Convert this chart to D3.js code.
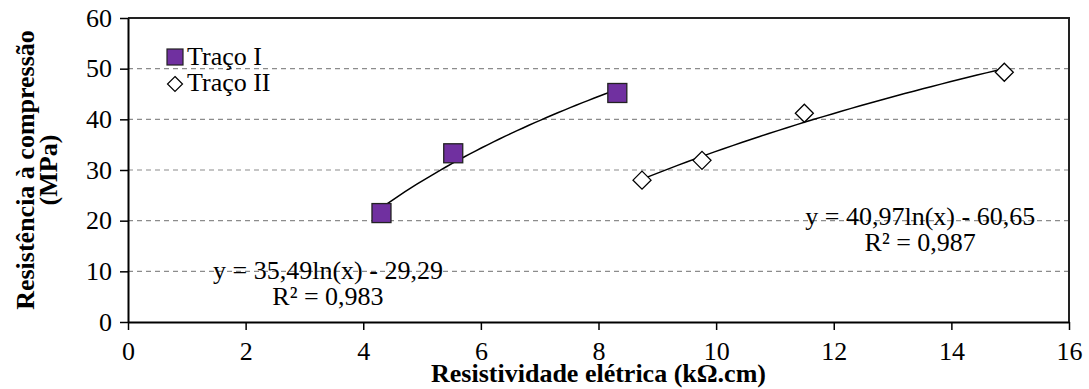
<!DOCTYPE html>
<html>
<head>
<meta charset="utf-8">
<script src="https://cdn.jsdelivr.net/npm/d3@7"></script>
<style>
  body { margin: 0; background: #fff; }
  svg text { font-family: "Liberation Serif", "Times New Roman", serif; fill: #000; }
</style>
</head>
<body>
<div id="chart"></div>
<script>
// series
const tracoIX = [4.31, 5.53, 8.32];
const tracoIY = [21.5, 33.3, 45.2];
const tracoIIX = [8.74, 9.76, 11.5, 14.9];
const tracoIIY = [28.0, 31.9, 41.2, 49.3];

// log trendlines as printed on the chart: y = a ln(x) + b
const fitI = { a: 35.49, b: -29.29, label: "y = 35,49ln(x) - 29,29", r2: "R² = 0,983" };
const fitII = { a: 40.97, b: -60.65, label: "y = 40,97ln(x) - 60,65", r2: "R² = 0,987" };

const xTicks = [0, 2, 4, 6, 8, 10, 12, 14, 16];
const yTicks = [0, 10, 20, 30, 40, 50, 60];
const legendNames = ["Traço I", "Traço II"];

const width = 1089, height = 389;
const margin = { top: 18, right: 20, bottom: 67, left: 128 };
const purple = "#7030a0";
const fontSize = 26;

const svg = d3.select("#chart").append("svg")
  .attr("width", width)
  .attr("height", height);

const x = d3.scaleLinear().domain([0, 16]).range([margin.left, width - margin.right]);
const y = d3.scaleLinear().domain([0, 60]).range([height - margin.bottom, margin.top]);

// dashed gridlines
svg.append("g")
  .selectAll("line")
  .data(yTicks.filter(d => d > 0 && d < 60))
  .enter().append("line")
  .attr("x1", x(0)).attr("x2", x(16))
  .attr("y1", d => y(d)).attr("y2", d => y(d))
  .attr("stroke", "#8c8c8c")
  .attr("stroke-width", 1.2)
  .attr("stroke-dasharray", "5,4");

// top + right frame
svg.append("path")
  .attr("d", `M${x(0)},${y(60)}H${x(16)}V${y(0)}`)
  .attr("fill", "none")
  .attr("stroke", "#222")
  .attr("stroke-width", 2);

const xAxis = svg.append("g")
  .attr("transform", `translate(0,${y(0)})`)
  .call(d3.axisBottom(x).tickValues(xTicks).tickSize(8).tickSizeOuter(0).tickPadding(12));
const yAxis = svg.append("g")
  .attr("transform", `translate(${x(0)},0)`)
  .call(d3.axisLeft(y).tickValues(yTicks).tickSize(8).tickSizeOuter(0).tickPadding(8));

[xAxis, yAxis].forEach(g => {
  g.select(".domain").attr("stroke", "#000").attr("stroke-width", 2);
  g.selectAll(".tick line").attr("stroke", "#000").attr("stroke-width", 1.5);
  g.selectAll("text")
    .style("font-family", '"Liberation Serif", serif')
    .style("font-size", fontSize + "px")
    .attr("fill", "#000");
});

// axis titles
svg.append("text")
  .attr("x", x(8))
  .attr("y", 382)
  .attr("text-anchor", "middle")
  .style("font-size", fontSize + "px")
  .style("font-weight", "bold")
  .text("Resistividade elétrica (kΩ.cm)");

const yTitle = svg.append("text")
  .attr("transform", `translate(0,${y(30)}) rotate(-90)`)
  .attr("text-anchor", "middle")
  .style("font-size", fontSize + "px")
  .style("font-weight", "bold");
yTitle.append("tspan").attr("x", 0).attr("y", 34).text("Resistência à compressão");
yTitle.append("tspan").attr("x", 0).attr("y", 57).text("(MPa)");

// trendlines
function trend(fit, xs) {
  const lo = d3.min(xs), hi = d3.max(xs);
  const pts = d3.range(0, 41).map(i => {
    const xv = lo + (hi - lo) * i / 40;
    return [xv, fit.a * Math.log(xv) + fit.b];
  });
  return d3.line().x(d => x(d[0])).y(d => y(d[1]))(pts);
}

svg.append("path")
  .attr("d", trend(fitI, tracoIX))
  .attr("fill", "none").attr("stroke", "#000").attr("stroke-width", 1.5);
svg.append("path")
  .attr("d", trend(fitII, tracoIIX))
  .attr("fill", "none").attr("stroke", "#000").attr("stroke-width", 1.5);

// markers
const sq = 19;
svg.append("g").selectAll("rect")
  .data(tracoIX.map((d, i) => [d, tracoIY[i]]))
  .enter().append("rect")
  .attr("x", d => x(d[0]) - sq / 2)
  .attr("y", d => y(d[1]) - sq / 2)
  .attr("width", sq).attr("height", sq)
  .attr("fill", purple)
  .attr("stroke", "#222").attr("stroke-width", 1.3);

const dm = 9;
const diamond = (cx, cy, r) => `M${cx},${cy - r}L${cx + r},${cy}L${cx},${cy + r}L${cx - r},${cy}Z`;
svg.append("g").selectAll("path")
  .data(tracoIIX.map((d, i) => [d, tracoIIY[i]]))
  .enter().append("path")
  .attr("d", d => diamond(x(d[0]), y(d[1]), dm))
  .attr("fill", "#fff")
  .attr("stroke", "#000").attr("stroke-width", 1.3);

// equations
function equation(fit, cx, cy) {
  const t = svg.append("text")
    .attr("text-anchor", "middle")
    .style("font-size", fontSize + "px");
  t.append("tspan").attr("x", x(cx)).attr("y", y(cy)).text(fit.label);
  t.append("tspan").attr("x", x(cx)).attr("y", y(cy) + 26).text(fit.r2);
}
equation(fitI, 3.4, 8.4);
equation(fitII, 13.47, 19.1);

// legend
const legend = svg.append("g").attr("transform", "translate(167,49)");
legend.append("rect")
  .attr("x", 0).attr("y", 0).attr("width", 16).attr("height", 16)
  .attr("fill", purple).attr("stroke", "#222").attr("stroke-width", 1.2);
legend.append("path")
  .attr("d", diamond(8, 35, 7.5))
  .attr("fill", "#fff").attr("stroke", "#000").attr("stroke-width", 1.2);
legend.selectAll("text.lg")
  .data(legendNames)
  .enter().append("text")
  .attr("class", "lg")
  .attr("x", 20)
  .attr("y", (d, i) => 16 + i * 26)
  .style("font-size", fontSize + "px")
  .text(d => d);
</script>
</body>
</html>
